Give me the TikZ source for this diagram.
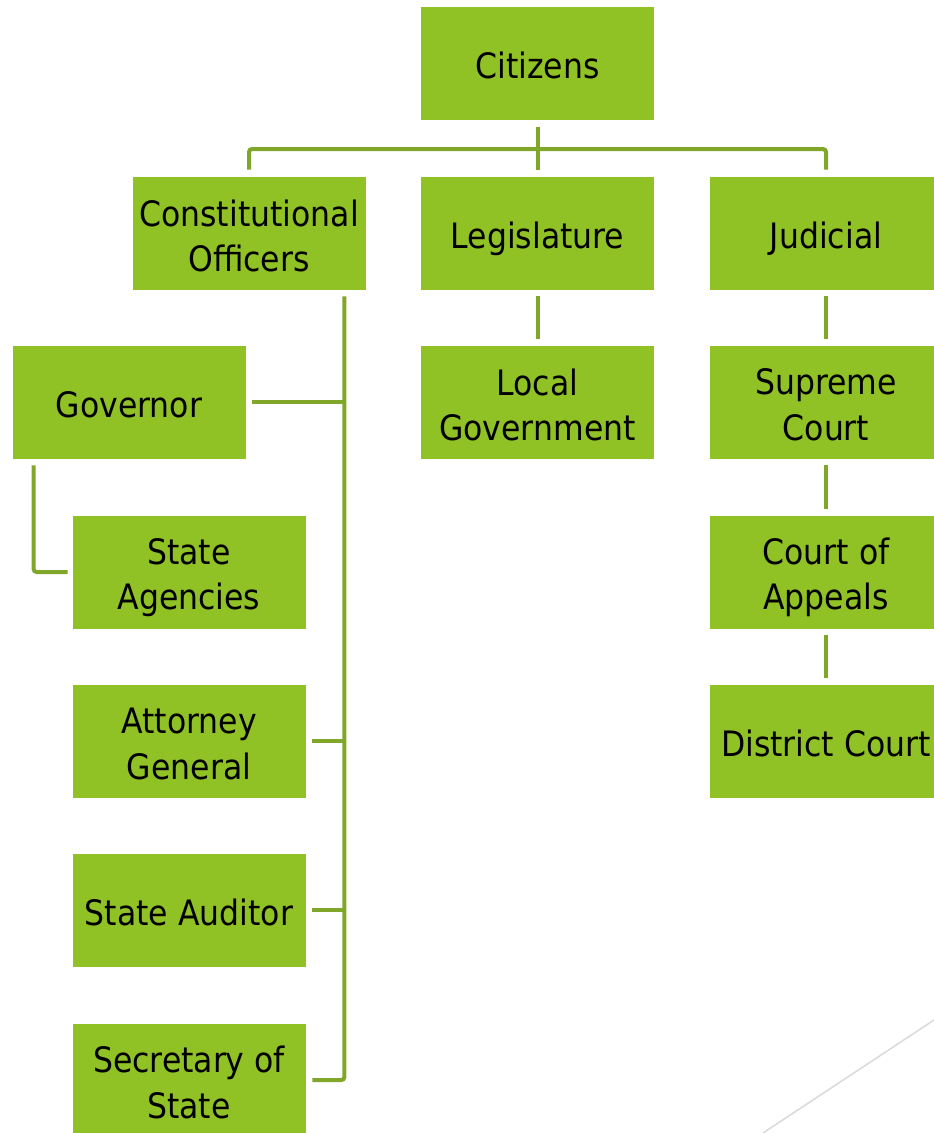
\documentclass[tikz,border=0pt]{standalone}
\usepackage{fontspec}
\setmainfont{DejaVu Sans}[FakeStretch=0.9]
\usepackage{tikz}

\definecolor{boxgreen}{HTML}{90C226}
\definecolor{linegreen}{HTML}{80A62A}
\newcommand{\officestrut}{\rule[-7pt]{0pt}{45pt}}
\newcommand{\twolines}[2]{\officestrut#1\\#2\officestrut}

\begin{document}
\begin{tikzpicture}[x=1pt,y=-1pt]
  \tikzset{office/.style = {shape=rectangle,fill=boxgreen,draw=white,line width=0.8pt,minimum width=234pt,minimum height=114pt,inner sep=0pt,align=center,font=\fontsize{35}{45}\selectfont}}
  \tikzset{oneline/.style = {office,text height=30pt,text depth=0pt}}
  \tikzset{conn/.style = {draw=linegreen,line width=4pt,rounded corners=3pt}}

  \useasboundingbox (0,0) rectangle (934,1133);
  \clip (0,0) rectangle (934,1133);

	\node[oneline] (cit) at (537.5,63.5) {Citizens};
	\node[office] (con) at (249,233) {\twolines{Constitutional}{Officers}};
	\node[oneline] (leg) at (537.5,233) {Legislature};
	\node[oneline] (jud) at (826,233) {Judicial};
	\node[oneline] (gov) at (129,402) {Governor};
	\node[office] (loc) at (537.5,402) {\twolines{Local}{Government}};
	\node[office] (sup) at (826,402) {\twolines{Supreme}{Court}};
	\node[office] (sta) at (189,572) {\twolines{State}{Agencies}};
	\node[office] (coa) at (826,572) {\twolines{Court of}{Appeals}};
	\node[office] (att) at (189,741) {\twolines{Attorney}{General}};
	\node[oneline] (dis) at (826,741) {District Court};
	\node[oneline] (aud) at (189,910) {State Auditor};
	\node[office] (sec) at (189,1080) {\twolines{Secretary of}{State}};

	\coordinate (split) at (537.5,149);
	\coordinate (spine) at ([xshift=-22pt]con.south east);

    % citizens to the three branches
    \path[conn] ([yshift=-6pt]cit.south) -- ([yshift=6pt]leg.north);
    \path[conn] ([yshift=6pt]con.north) |- (split) -| ([yshift=6pt]jud.north);

    \foreach \from/\to in {leg/loc, jud/sup, sup/coa, coa/dis}
    \path[conn] ([yshift=-6pt]\from.south) -- ([yshift=6pt]\to.north);

    % constitutional officers
    \path[conn] ([yshift=-6pt]spine) |- ([xshift=6pt]sec.east);
    \foreach \n in {gov, att, aud}
    \path[conn,rounded corners=0pt] ([xshift=6pt]\n.east) -- (\n.east -| spine);

    \path[conn] ([xshift=22pt,yshift=-6pt]gov.south west) |- ([xshift=-4pt]sta.west);

    \draw[black!15,line width=1.5pt] (934,1020) -- (763,1133);

\end{tikzpicture}
\end{document}
